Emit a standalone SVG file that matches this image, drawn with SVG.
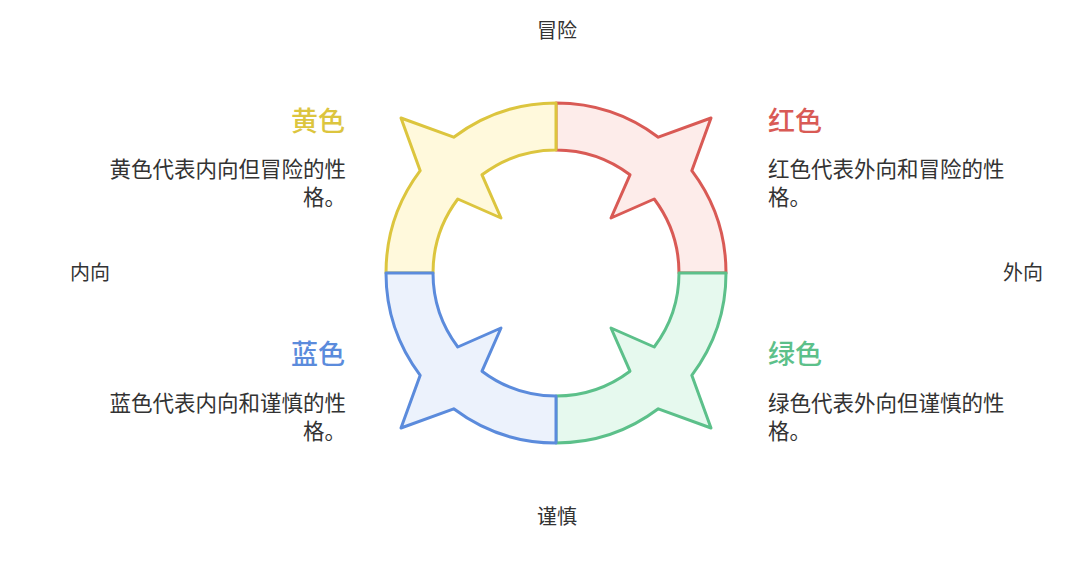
<svg xmlns="http://www.w3.org/2000/svg" width="1092" height="568" viewBox="0 0 1092 568">
<style>
.seg{stroke-width:3;stroke-linejoin:round}
text{font-family:"Noto Sans CJK SC","Noto Sans",sans-serif;fill:#333;font-size:20px}
.d{font-size:21.5px}
.t{font-size:27px;font-weight:500}
.r{text-anchor:end}
.m{text-anchor:middle}
</style>
<rect width="1092" height="568" fill="#fff"/>
<g id="connectors"></g>
<g id="red"><path class="seg" fill="#fdecea" stroke="#d95a55" d="M556,103 A170,170 0 0 1 658.3,137.2 L711,118 L691.8,170.7 A170,170 0 0 1 726,273 L679,273 A123,123 0 0 0 654.2,199 L611,218 L630,174.8 A123,123 0 0 0 556,150 Z"/>
<text class="t" x="768" y="131" style="fill:#d95a55">红色</text>
<text class="d" x="768" y="177">红色代表外向和冒险的性</text><text class="d" x="768" y="205">格。</text></g>
<g id="yellow"><path class="seg" fill="#fff9dc" stroke="#dcc53e" d="M556,103 A170,170 0 0 0 453.7,137.2 L401,118 L420.2,170.7 A170,170 0 0 0 386,273 L433,273 A123,123 0 0 1 457.8,199 L501,218 L482,174.8 A123,123 0 0 1 556,150 Z"/>
<text class="t r" x="345" y="131" style="fill:#dcc53e">黄色</text>
<text class="d r" x="346" y="177">黄色代表内向但冒险的性</text><text class="d r" x="346" y="205">格。</text></g>
<g id="green"><path class="seg" fill="#e6f9ee" stroke="#5cc08a" d="M556,443 A170,170 0 0 0 658.3,408.8 L711,428 L691.8,375.3 A170,170 0 0 0 726,273 L679,273 A123,123 0 0 1 654.2,347 L611,328 L630,371.2 A123,123 0 0 1 556,396 Z"/>
<text class="t" x="768" y="364" style="fill:#5cc08a">绿色</text>
<text class="d" x="768" y="411">绿色代表外向但谨慎的性</text><text class="d" x="768" y="439">格。</text></g>
<g id="blue"><path class="seg" fill="#ecf2fc" stroke="#5b8bdc" d="M556,443 A170,170 0 0 1 453.7,408.8 L401,428 L420.2,375.3 A170,170 0 0 1 386,273 L433,273 A123,123 0 0 0 457.8,347 L501,328 L482,371.2 A123,123 0 0 0 556,396 Z"/>
<text class="t r" x="345" y="364" style="fill:#5b8bdc">蓝色</text>
<text class="d r" x="346" y="411">蓝色代表内向和谨慎的性</text><text class="d r" x="346" y="439">格。</text></g>
<g id="axes">
<text class="m" x="557" y="38">冒险</text>
<text class="m" x="557" y="524">谨慎</text>
<text class="m" x="90" y="280">内向</text>
<text class="m" x="1023" y="280">外向</text>
</g>
</svg>
